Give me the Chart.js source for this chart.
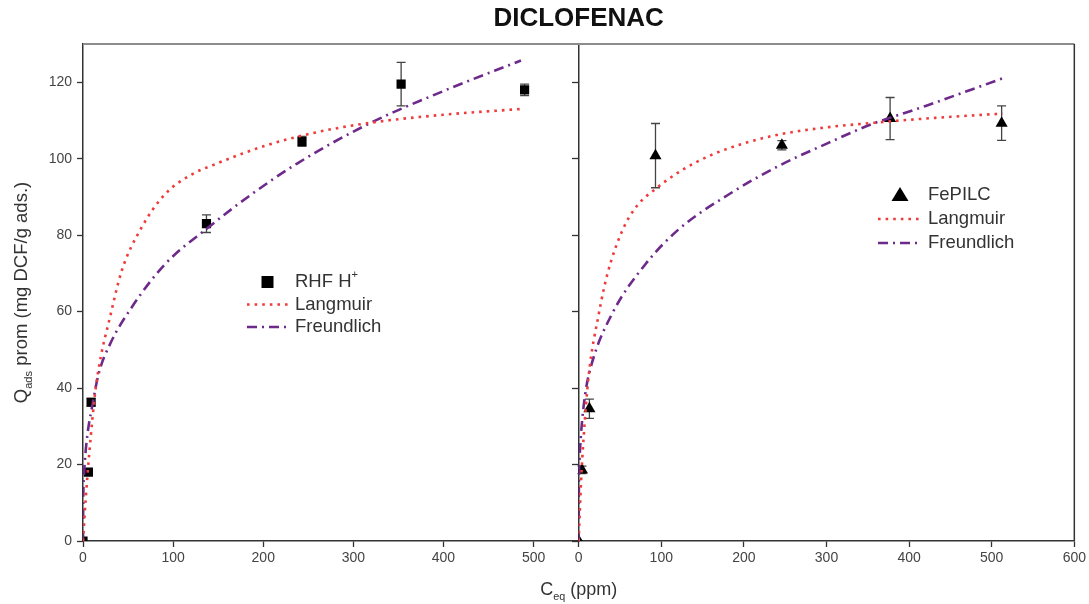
<!DOCTYPE html>
<html>
<head>
<meta charset="utf-8">
<script src="https://cdn.jsdelivr.net/npm/chart.js@4.4.1/dist/chart.umd.min.js"></script>
<style>
  html, body { margin: 0; padding: 0; background: #fff; }
</style>
</head>
<body>
<canvas id="iso" width="1089" height="604"></canvas>
<script>
// RHF H+ : measured points, Ceq (ppm) vs Qads (mg/g), with std. dev.
const rhfC   = [0, 6, 9, 137, 243, 353, 490];
const rhfQ   = [0, 18, 36.3, 83, 104.5, 119.5, 118];
const rhfErr = [0, 0.8, 1, 2.3, 1.3, 5.7, 1.5];

// RHF H+ : fitted isotherms
const rhfLangC = [0, 3, 7, 13.6, 20, 28.4, 43, 65, 91, 120, 146, 201, 257, 319, 400, 486];
const rhfLangQ = [0, 11, 23, 39, 48.5, 57, 70.7, 82, 90.7, 95.8, 98.5, 103.3, 106.8, 109.4, 111.5, 113];
const rhfFreuC = [0, 0.3, 1, 2, 5, 10, 17.3, 30, 54, 91, 139, 183, 238, 316, 400, 486];
const rhfFreuQ = [0, 11, 16.5, 20.7, 28, 35, 43.7, 51.5, 61.1, 72.4, 82, 90, 98.8, 109, 117.7, 125.7];

// FePILC : measured points
const feC   = [0, 4, 13, 93, 246, 377, 512];
const feQ   = [0, 18.6, 34.6, 100.8, 103.5, 110.5, 109.3];
const feErr = [0, 1, 2.5, 8.4, 1.2, 5.5, 4.5];

// FePILC : fitted isotherms
const feLangC = [0, 3, 6, 12, 24, 35, 52.5, 70, 92.5, 125, 161, 200, 242, 300, 347, 420, 513];
const feLangQ = [0, 16, 27, 43, 59, 70, 81, 87.5, 92, 97, 101, 104, 106.3, 108.2, 109.2, 110.5, 111.8];
const feFreuC = [0, 0.3, 1, 3, 8, 16, 40.4, 80.8, 121, 182, 242, 303, 352, 420, 513];
const feFreuQ = [0, 15, 21, 28.4, 38.5, 46.5, 59.4, 72.4, 81.5, 90.7, 98.1, 104.2, 108.8, 113.8, 121];

const yTicks = [0, 20, 40, 60, 80, 100, 120];

const FONT = "'Liberation Sans', Arial, sans-serif";
const INK = '#333';
const RED = '#ee3b3b';
const PURPLE = '#6e2a8a';
const LANG_DASH = [2.6, 5];
const FREU_DASH = [10, 5, 2, 5];

function pts(xs, ys) {
  return xs.map((x, i) => ({ x: x, y: ys[i] }));
}

// text with sub/superscript pieces: [{t, sub}, {t, sup}]
function richWidth(ctx, parts, size) {
  let w = 0;
  parts.forEach(p => {
    ctx.font = ((p.sub || p.sup) ? size * 0.6 : size) + 'px ' + FONT;
    w += ctx.measureText(p.t).width;
  });
  return w;
}
function drawRich(ctx, parts, x, y, size) {
  parts.forEach(p => {
    const s = (p.sub || p.sup) ? size * 0.6 : size;
    ctx.font = s + 'px ' + FONT;
    let dy = 0;
    if (p.sub) dy = size * 0.38;
    if (p.sup) dy = -size * 0.38;
    ctx.fillText(p.t, x, y + dy);
    x += ctx.measureText(p.t).width;
  });
}

// vertical error bars under the markers
const errorBars = {
  id: 'errorBars',
  beforeDatasetDraw(chart, args) {
    const ds = chart.data.datasets[args.index];
    if (!ds.errors) return;
    const meta = args.meta;
    const xs = chart.scales[meta.xAxisID], ys = chart.scales[meta.yAxisID];
    const ctx = chart.ctx;
    ctx.save();
    ctx.strokeStyle = '#444';
    ctx.lineWidth = 1.3;
    ds.data.forEach((p, i) => {
      const e = ds.errors[i];
      if (!e) return;
      const px = xs.getPixelForValue(p.x);
      const top = ys.getPixelForValue(p.y + e);
      const bot = ys.getPixelForValue(p.y - e);
      ctx.beginPath();
      ctx.moveTo(px, top); ctx.lineTo(px, bot);
      ctx.moveTo(px - 4.5, top); ctx.lineTo(px + 4.5, top);
      ctx.moveTo(px - 4.5, bot); ctx.lineTo(px + 4.5, bot);
      ctx.stroke();
    });
    ctx.restore();
  }
};

// top and right edges of the frame, axis titles, panel legends
const frameAndLabels = {
  id: 'frameAndLabels',
  afterDraw(chart, args, opts) {
    const ctx = chart.ctx;
    const a = chart.chartArea;
    ctx.save();
    ctx.strokeStyle = '#8c8c8c';
    ctx.lineWidth = 2;
    ctx.beginPath();
    ctx.moveTo(a.left, a.top); ctx.lineTo(a.right, a.top);
    ctx.stroke();
    ctx.strokeStyle = INK;
    ctx.lineWidth = 1.5;
    ctx.beginPath();
    ctx.moveTo(a.right, a.top); ctx.lineTo(a.right, a.bottom);
    ctx.stroke();

    ctx.fillStyle = INK;
    ctx.textBaseline = 'middle';

    // x title
    const xt = [{ t: 'C' }, { t: 'eq', sub: true }, { t: ' (ppm)' }];
    const xw = richWidth(ctx, xt, 18);
    drawRich(ctx, xt, (a.left + a.right) / 2 - xw / 2, 590, 18);

    // y title
    const yt = [{ t: 'Q' }, { t: 'ads', sub: true }, { t: ' prom (mg DCF/g ads.)' }];
    const yw = richWidth(ctx, yt, 18.5);
    ctx.save();
    ctx.translate(22, (a.top + a.bottom) / 2);
    ctx.rotate(-Math.PI / 2);
    drawRich(ctx, yt, -yw / 2, 0, 18.5);
    ctx.restore();

    // legends
    opts.panels.forEach(pl => {
      pl.rows.forEach((r, k) => {
        const ds = chart.data.datasets[r.ds];
        const y = pl.y + k * pl.step;
        ctx.save();
        if (ds.showLine) {
          ctx.strokeStyle = ds.borderColor;
          ctx.lineWidth = ds.borderWidth;
          ctx.setLineDash(ds.borderDash);
          ctx.beginPath();
          ctx.moveTo(pl.lineX0, y); ctx.lineTo(pl.lineX1, y);
          ctx.stroke();
        } else {
          ctx.fillStyle = ds.pointBackgroundColor;
          const cx = (pl.lineX0 + pl.lineX1) / 2 + pl.markerShift;
          ctx.beginPath();
          if (ds.pointStyle === 'triangle') {
            ctx.moveTo(cx, y - 8); ctx.lineTo(cx + 8.5, y + 6); ctx.lineTo(cx - 8.5, y + 6);
            ctx.closePath();
          } else {
            ctx.rect(cx - 6, y - 6, 12, 12);
          }
          ctx.fill();
        }
        ctx.restore();
        ctx.fillStyle = INK;
        drawRich(ctx, r.text, pl.textX, y, 18.5);
      });
    });
    ctx.restore();
  }
};

function curve(label, xs, ys, color, dash, xAxis) {
  return {
    label: label,
    data: pts(xs, ys),
    xAxisID: xAxis,
    showLine: true,
    borderColor: color,
    borderWidth: 2.6,
    borderDash: dash,
    pointRadius: 0,
    cubicInterpolationMode: 'monotone',
    fill: false
  };
}

function markers(label, xs, ys, errs, style, radius, xAxis) {
  return {
    label: label,
    data: pts(xs, ys),
    errors: errs,
    xAxisID: xAxis,
    showLine: false,
    pointStyle: style,
    pointRadius: radius,
    pointBackgroundColor: '#000',
    pointBorderColor: '#000',
    pointBorderWidth: 0
  };
}

function xScale(max) {
  return {
    type: 'linear',
    position: 'bottom',
    stack: 'ceq',
    stackWeight: 1,
    min: 0,
    max: max,
    ticks: {
      stepSize: 100,
      includeBounds: false,
      autoSkip: false,
      maxRotation: 0,
      minRotation: 0,
      padding: 3,
      color: '#444',
      font: { family: FONT, size: 14 }
    },
    grid: { drawOnChartArea: false, tickLength: 6, tickColor: INK, tickWidth: 1.3 },
    border: { color: INK, width: 1.5 },
    afterFit(s) { s.height = 63; }
  };
}

new Chart(document.getElementById('iso'), {
  type: 'scatter',
  data: {
    datasets: [
      curve('Langmuir', rhfLangC, rhfLangQ, RED, LANG_DASH, 'x'),
      curve('Freundlich', rhfFreuC, rhfFreuQ, PURPLE, FREU_DASH, 'x'),
      markers('RHF H+', rhfC, rhfQ, rhfErr, 'rect', 6.5, 'x'),
      curve('Langmuir', feLangC, feLangQ, RED, LANG_DASH, 'x2'),
      curve('Freundlich', feFreuC, feFreuQ, PURPLE, FREU_DASH, 'x2'),
      markers('FePILC', feC, feQ, feErr, 'triangle', 7, 'x2')
    ]
  },
  options: {
    responsive: false,
    animation: false,
    devicePixelRatio: 1,
    layout: { padding: { left: 0, right: 14, top: 0, bottom: 0 } },
    scales: {
      x: xScale(550),
      x2: xScale(600),
      y: {
        type: 'linear',
        position: 'left',
        min: 0,
        max: 130,
        afterBuildTicks(s) { s.ticks = yTicks.map(v => ({ value: v })); },
        ticks: { padding: 5, color: '#444', font: { family: FONT, size: 14 } },
        grid: { drawOnChartArea: false, tickLength: 6, tickColor: INK, tickWidth: 1.3 },
        border: { color: INK, width: 1.5 },
        afterFit(s) { s.width = 83; }
      },
      y2: {
        type: 'linear',
        axis: 'y',
        position: { x2: 0 },
        min: 0,
        max: 130,
        afterBuildTicks(s) { s.ticks = yTicks.map(v => ({ value: v })); },
        ticks: { display: false },
        grid: { drawOnChartArea: false, tickLength: 6, tickColor: INK, tickWidth: 1.3 },
        border: { color: INK, width: 1.5 }
      }
    },
    plugins: {
      legend: { display: false },
      tooltip: { enabled: false },
      title: {
        display: true,
        fullSize: false,
        text: 'DICLOFENAC',
        color: '#111',
        font: { family: FONT, size: 26, weight: 'bold' },
        padding: { top: 3, bottom: 9.8 }
      },
      frameAndLabels: {
        panels: [
          {
            lineX0: 247, lineX1: 290, markerShift: -1, textX: 295, y: 282, step: 22.5,
            rows: [
              { ds: 2, text: [{ t: 'RHF H' }, { t: '+', sup: true }] },
              { ds: 0, text: [{ t: 'Langmuir' }] },
              { ds: 1, text: [{ t: 'Freundlich' }] }
            ]
          },
          {
            lineX0: 878, lineX1: 920, markerShift: 1, textX: 928, y: 195, step: 24,
            rows: [
              { ds: 5, text: [{ t: 'FePILC' }] },
              { ds: 3, text: [{ t: 'Langmuir' }] },
              { ds: 4, text: [{ t: 'Freundlich' }] }
            ]
          }
        ]
      }
    }
  },
  plugins: [errorBars, frameAndLabels]
});
</script>
</body>
</html>
